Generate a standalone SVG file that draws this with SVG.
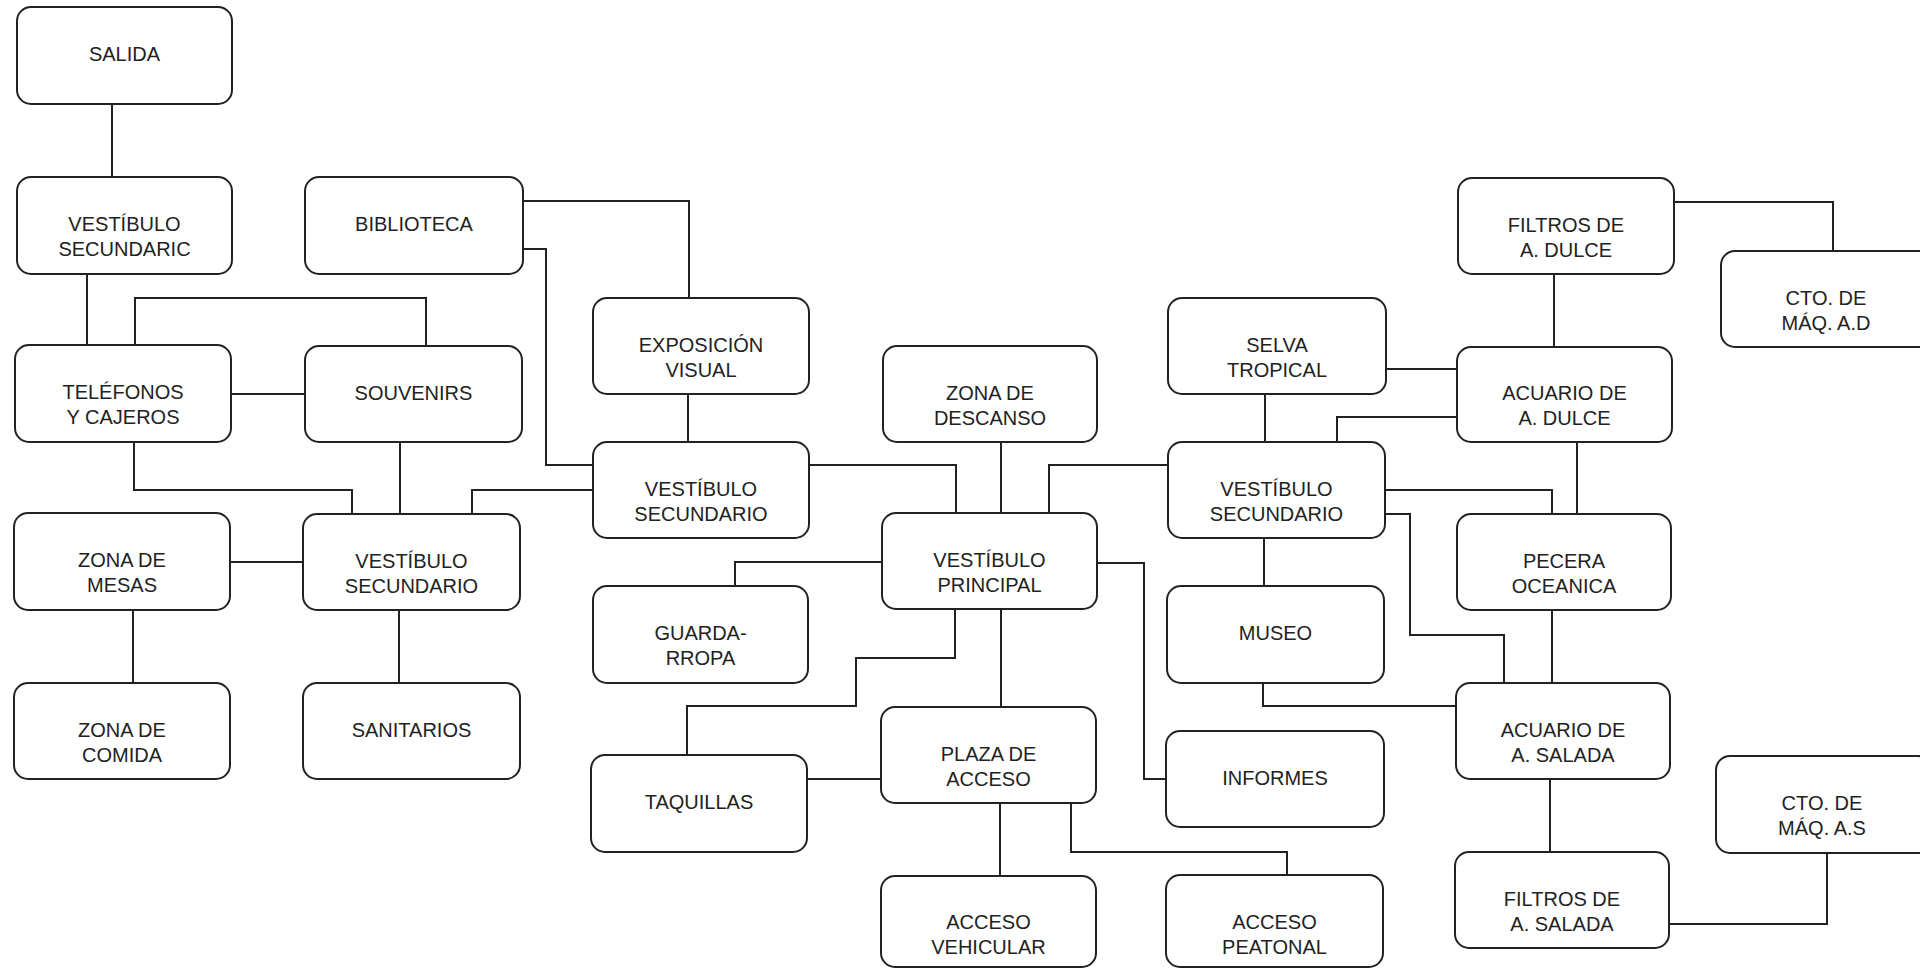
<svg xmlns="http://www.w3.org/2000/svg" width="1920" height="969" viewBox="0 0 1920 969">
<style>
.box{fill:#fff;stroke:#222;stroke-width:2}
.t{font-family:"Liberation Sans",Arial,sans-serif;font-size:20px;fill:#222;text-anchor:middle}
#connectors path{fill:none;stroke:#222;stroke-width:2}
</style>
<rect width="1920" height="969" fill="#fff"/>
<g id="connectors">
<path d="M112,104V177"/>
<path d="M87,274V345"/>
<path d="M135,345V298H426V346"/>
<path d="M231,394H305"/>
<path d="M134,442V490H352V514"/>
<path d="M400,442V514"/>
<path d="M472,514V490H593"/>
<path d="M230,562H303"/>
<path d="M133,610V683"/>
<path d="M399,610V683"/>
<path d="M523,201H689V298"/>
<path d="M523,249H546V465H593"/>
<path d="M688,394V442"/>
<path d="M809,465H956V513"/>
<path d="M1001,442V513"/>
<path d="M1049,513V465H1168"/>
<path d="M882,562H735V586"/>
<path d="M955,609V658H856V706H687V755"/>
<path d="M1001,609V707"/>
<path d="M1097,563H1144V779H1166"/>
<path d="M807,779H881"/>
<path d="M1000,803V876"/>
<path d="M1071,803V852H1287V875"/>
<path d="M1265,394V442"/>
<path d="M1386,369H1457"/>
<path d="M1337,442V417H1457"/>
<path d="M1554,274V347"/>
<path d="M1674,202H1833V251"/>
<path d="M1577,442V514"/>
<path d="M1385,490H1552V514"/>
<path d="M1385,514H1410V635H1504V683"/>
<path d="M1264,538V586"/>
<path d="M1263,683V706H1456"/>
<path d="M1552,610V683"/>
<path d="M1550,779V852"/>
<path d="M1669,924H1827V853"/>
</g>
<g id="salida"><rect class="box" x="17" y="7" width="215" height="97" rx="14"/><text class="t" x="124.5" y="61">SALIDA</text></g>
<g id="vestibulo-secundaric"><rect class="box" x="17" y="177" width="215" height="97" rx="14"/><text class="t" x="124.5" y="231">VESTÍBULO</text><text class="t" x="124.5" y="256">SECUNDARIC</text></g>
<g id="biblioteca"><rect class="box" x="305" y="177" width="218" height="97" rx="14"/><text class="t" x="414" y="231">BIBLIOTECA</text></g>
<g id="telefonos"><rect class="box" x="15" y="345" width="216" height="97" rx="14"/><text class="t" x="123" y="399">TELÉFONOS</text><text class="t" x="123" y="424">Y CAJEROS</text></g>
<g id="souvenirs"><rect class="box" x="305" y="346" width="217" height="96" rx="14"/><text class="t" x="413.5" y="400">SOUVENIRS</text></g>
<g id="exposicion-visual"><rect class="box" x="593" y="298" width="216" height="96" rx="14"/><text class="t" x="701" y="352">EXPOSICIÓN</text><text class="t" x="701" y="377">VISUAL</text></g>
<g id="vestibulo-secundario-centro"><rect class="box" x="593" y="442" width="216" height="96" rx="14"/><text class="t" x="701" y="496">VESTÍBULO</text><text class="t" x="701" y="521">SECUNDARIO</text></g>
<g id="zona-descanso"><rect class="box" x="883" y="346" width="214" height="96" rx="14"/><text class="t" x="990" y="400">ZONA DE</text><text class="t" x="990" y="425">DESCANSO</text></g>
<g id="selva-tropical"><rect class="box" x="1168" y="298" width="218" height="96" rx="14"/><text class="t" x="1277" y="352">SELVA</text><text class="t" x="1277" y="377">TROPICAL</text></g>
<g id="vestibulo-secundario-der"><rect class="box" x="1168" y="442" width="217" height="96" rx="14"/><text class="t" x="1276.5" y="496">VESTÍBULO</text><text class="t" x="1276.5" y="521">SECUNDARIO</text></g>
<g id="filtros-dulce"><rect class="box" x="1458" y="178" width="216" height="96" rx="14"/><text class="t" x="1566" y="232">FILTROS DE</text><text class="t" x="1566" y="257">A. DULCE</text></g>
<g id="cto-ad"><rect class="box" x="1721" y="251" width="216" height="96" rx="14"/><text class="t" x="1826" y="305">CTO. DE</text><text class="t" x="1826" y="330">MÁQ. A.D</text></g>
<g id="acuario-dulce"><rect class="box" x="1457" y="347" width="215" height="95" rx="14"/><text class="t" x="1564.5" y="400">ACUARIO DE</text><text class="t" x="1564.5" y="425">A. DULCE</text></g>
<g id="pecera"><rect class="box" x="1457" y="514" width="214" height="96" rx="14"/><text class="t" x="1564" y="568">PECERA</text><text class="t" x="1564" y="593">OCEANICA</text></g>
<g id="zona-mesas"><rect class="box" x="14" y="513" width="216" height="97" rx="14"/><text class="t" x="122" y="567">ZONA DE</text><text class="t" x="122" y="592">MESAS</text></g>
<g id="vestibulo-secundario-izq"><rect class="box" x="303" y="514" width="217" height="96" rx="14"/><text class="t" x="411.5" y="568">VESTÍBULO</text><text class="t" x="411.5" y="593">SECUNDARIO</text></g>
<g id="vestibulo-principal"><rect class="box" x="882" y="513" width="215" height="96" rx="14"/><text class="t" x="989.5" y="567">VESTÍBULO</text><text class="t" x="989.5" y="592">PRINCIPAL</text></g>
<g id="guardarropa"><rect class="box" x="593" y="586" width="215" height="97" rx="14"/><text class="t" x="700.5" y="640">GUARDA-</text><text class="t" x="700.5" y="665">RROPA</text></g>
<g id="museo"><rect class="box" x="1167" y="586" width="217" height="97" rx="14"/><text class="t" x="1275.5" y="640">MUSEO</text></g>
<g id="zona-comida"><rect class="box" x="14" y="683" width="216" height="96" rx="14"/><text class="t" x="122" y="737">ZONA DE</text><text class="t" x="122" y="762">COMIDA</text></g>
<g id="sanitarios"><rect class="box" x="303" y="683" width="217" height="96" rx="14"/><text class="t" x="411.5" y="737">SANITARIOS</text></g>
<g id="taquillas"><rect class="box" x="591" y="755" width="216" height="97" rx="14"/><text class="t" x="699" y="809">TAQUILLAS</text></g>
<g id="plaza-acceso"><rect class="box" x="881" y="707" width="215" height="96" rx="14"/><text class="t" x="988.5" y="761">PLAZA DE</text><text class="t" x="988.5" y="786">ACCESO</text></g>
<g id="informes"><rect class="box" x="1166" y="731" width="218" height="96" rx="14"/><text class="t" x="1275" y="785">INFORMES</text></g>
<g id="acuario-salada"><rect class="box" x="1456" y="683" width="214" height="96" rx="14"/><text class="t" x="1563" y="737">ACUARIO DE</text><text class="t" x="1563" y="762">A. SALADA</text></g>
<g id="cto-as"><rect class="box" x="1716" y="756" width="216" height="97" rx="14"/><text class="t" x="1822" y="810">CTO. DE</text><text class="t" x="1822" y="835">MÁQ. A.S</text></g>
<g id="filtros-salada"><rect class="box" x="1455" y="852" width="214" height="96" rx="14"/><text class="t" x="1562" y="906">FILTROS DE</text><text class="t" x="1562" y="931">A. SALADA</text></g>
<g id="acceso-vehicular"><rect class="box" x="881" y="876" width="215" height="91" rx="14"/><text class="t" x="988.5" y="929">ACCESO</text><text class="t" x="988.5" y="954">VEHICULAR</text></g>
<g id="acceso-peatonal"><rect class="box" x="1166" y="875" width="217" height="92" rx="14"/><text class="t" x="1274.5" y="929">ACCESO</text><text class="t" x="1274.5" y="954">PEATONAL</text></g>
</svg>
